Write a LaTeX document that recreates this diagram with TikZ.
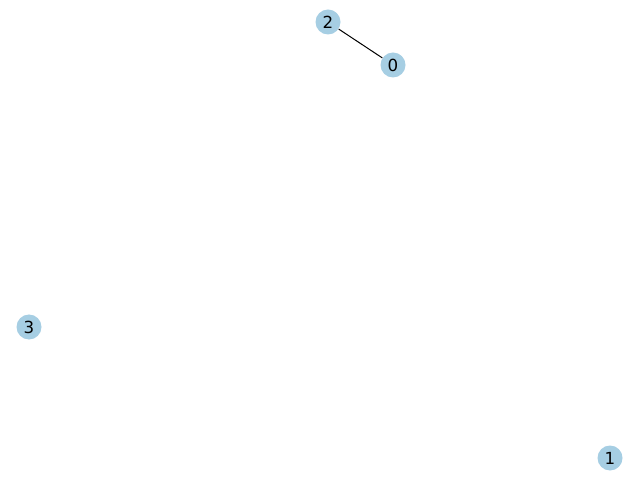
\documentclass[tikz,border=0pt]{standalone}
\usepackage{fontspec}
\setmainfont{DejaVu Sans}
\usetikzlibrary{positioning}
\definecolor{nodeblue}{RGB}{166, 206, 227}

\begin{document}
\begin{tikzpicture}[
    x=0.72bp, y=-0.72bp,
    vertex/.style={circle, fill=nodeblue, inner sep=0pt, minimum size=18bp, font=\fontsize{12bp}{14bp}\selectfont},
    edge/.style={black, line width=0.72bp},
]
\useasboundingbox (0,0) rectangle (640,480);

% Nodes
\node[vertex] (n2) at (328, 22) {2};
\node[vertex] (n0) at (393, 65) {0};
\node[vertex] (n3) at (29, 327) {3};
\node[vertex] (n1) at (610, 458) {1};

% Edges
\draw[edge] (n2) -- (n0);

\end{tikzpicture}
\end{document}
